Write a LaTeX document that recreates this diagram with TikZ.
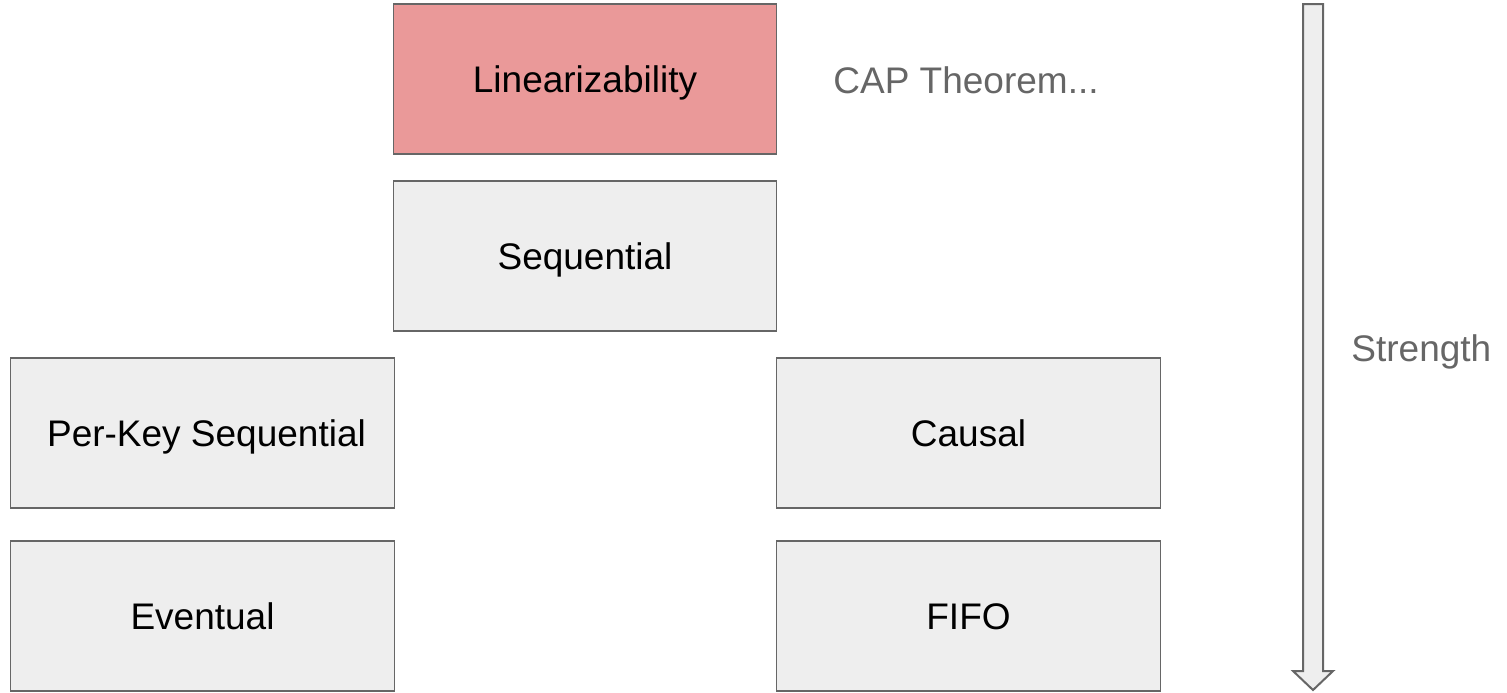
\documentclass[tikz,border=0pt]{standalone}
\usepackage{fontspec}
\setmainfont{Liberation Sans}
\definecolor{boxfill}{HTML}{EEEEEE}
\definecolor{boxline}{HTML}{666666}
\definecolor{hotfill}{HTML}{EA9999}
\definecolor{note}{HTML}{666666}
\begin{document}
\begin{tikzpicture}[x=0.5pt,y=-0.5pt,
  level/.style={draw=boxline, line width=0.6pt, fill=boxfill, rectangle,
    minimum width=383.5*0.5pt, minimum height=150*0.5pt, inner sep=0pt,
    text height=13.2pt, text depth=0pt,
    font=\fontsize{18.5}{22}\selectfont, text=black},
  notetext/.style={font=\fontsize{18.5}{22}\selectfont, text=note, inner sep=0pt,
    text height=13.2pt, text depth=0pt}]
\useasboundingbox (0,0) rectangle (1507,692);
% consistency models, strongest at the top
\node[level, fill=hotfill] (lin) at (585,79) {Linearizability};
\node[level] (seq) at (585,256) {Sequential};
\node[level] (pks) at (202.5,433) {\hspace{4pt}Per-Key Sequential};
\node[level] (evt) at (202.5,616) {Eventual};
\node[level] (cau) at (968.5,433) {Causal};
\node[level] (fifo) at (968.5,616) {FIFO};
% side notes
\node[notetext, anchor=west] (cap) at (833,80) {CAP Theorem...};
\node[notetext, anchor=west] (str) at (1351,348) {Strength};
% downward block arrow
\draw[draw=boxline, line width=1pt, fill=boxfill, line join=miter]
  (1303,4) -- (1323,4) -- (1323,671) -- (1333,671) -- (1313,690)
  -- (1293,671) -- (1303,671) -- cycle;
\end{tikzpicture}
\end{document}
